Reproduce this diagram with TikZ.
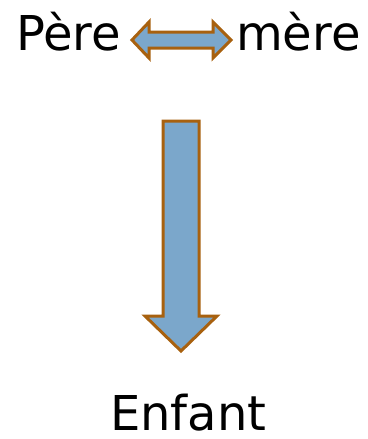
\documentclass[tikz,border=0pt]{standalone}
\usepackage{fontspec}
\setmainfont{DejaVu Sans}
\usepackage{tikz}
\usetikzlibrary{positioning,calc}
\definecolor{arrowfill}{HTML}{7BA7CB}
\definecolor{arrowline}{HTML}{A8610F}
\tikzset{
  famlabel/.style={
    font=\fontsize{48}{52}\selectfont, inner sep=0pt, anchor=base west
  },
  bigarrow/.style={
    draw=arrowline, fill=arrowfill, line width=3pt, line join=miter
  },
}
\begin{document}
\begin{tikzpicture}[x=1pt, y=-1pt]
  \useasboundingbox (0,0) rectangle (367,439);

  % Parents
  \node[famlabel] (pere) at (16,50) {Père};
  \node[famlabel] (mere) at (236,50) {mère};

  % Child
  \node[famlabel] (enfant) at (110,430) {Enfant};

  % Link between parents
  \draw[bigarrow] (132,40) -- (149,22) -- (149,32) -- (213,32) -- (213,22)
    -- (231,40) -- (213,58) -- (213,48) -- (149,48) -- (149,58) -- cycle;

  % Descent
  \draw[bigarrow] (163,121) -- (199,121) -- (199,316) -- (217,316)
    -- (181,351) -- (145,316) -- (163,316) -- cycle;
\end{tikzpicture}
\end{document}
